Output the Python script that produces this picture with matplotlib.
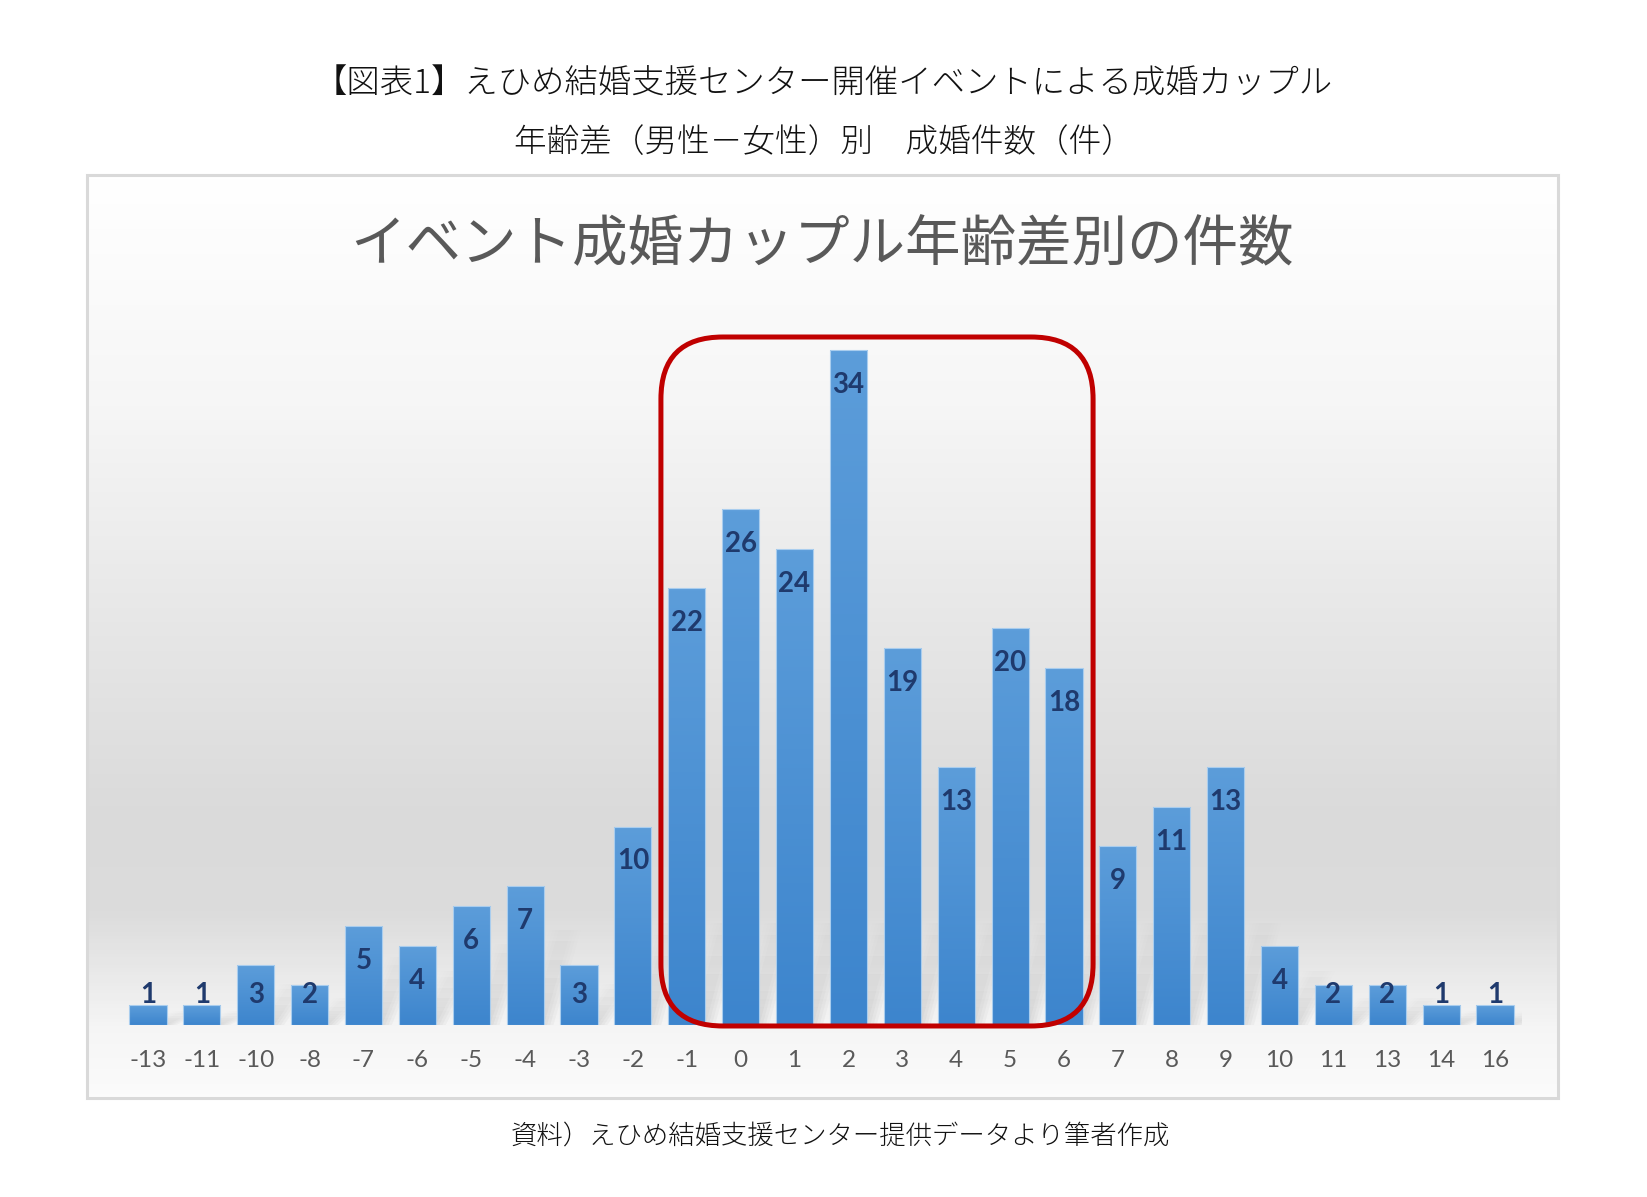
import numpy as np
import matplotlib.pyplot as plt
from matplotlib.patches import Rectangle, FancyBboxPatch, Polygon
from matplotlib.colors import LinearSegmentedColormap

# data
age_diff = ["-13", "-11", "-10", "-8", "-7", "-6", "-5", "-4", "-3", "-2", "-1",
            "0", "1", "2", "3", "4", "5", "6", "7", "8", "9", "10", "11", "13", "14", "16"]
counts = [1, 1, 3, 2, 5, 4, 6, 7, 3, 10, 22, 26, 24, 34, 19, 13, 20, 18, 9, 11, 13, 4, 2, 2, 1, 1]

fig_title1 = "【図表1】えひめ結婚支援センター開催イベントによる成婚カップル"
fig_title2 = "年齢差（男性－女性）別　成婚件数（件）"
chart_title = "イベント成婚カップル年齢差別の件数"
source_note = "資料）えひめ結婚支援センター提供データより筆者作成"

# highlighted group: "-1" .. "6"
box_from, box_to = "-1", "6"

W, H = 1647, 1197
plt.rcParams['font.family'] = ['Noto Sans CJK JP', 'DejaVu Sans']

fig = plt.figure(figsize=(W / 100, H / 100), dpi=100)
fig.patch.set_facecolor("white")

# chart frame with soft grey vertical gradient
fx0, fy0, fx1, fy1 = 87, 175, 1558, 1098
bg = fig.add_axes([fx0 / W, 1 - fy1 / H, (fx1 - fx0) / W, (fy1 - fy0) / H], zorder=0)
bg_cmap = LinearSegmentedColormap.from_list("bg", [
    (0.0, "#ffffff"), (0.25, "#f6f6f6"), (0.5, "#e6e6e6"), (0.7, "#dadada"),
    (0.8, "#dcdcdc"), (0.88, "#ececec"), (0.93, "#f6f6f6"), (1.0, "#fbfbfb")])
bg.imshow(np.linspace(0, 1, 256).reshape(-1, 1), cmap=bg_cmap, aspect="auto",
          extent=[0, 1, 0, 1], origin="upper")
bg.set_xlim(0, 1)
bg.set_ylim(0, 1)
bg.axis("off")
bg.add_patch(Rectangle((0, 0), 1, 1, transform=bg.transAxes, fill=False,
                       edgecolor="#d9d9d9", linewidth=2.2, clip_on=False))

# plot area
x = np.arange(len(counts))
px_left, px_right = 121, 1522
base_px, unit_px, ymax = 1025, 19.85, 36
ax = fig.add_axes([px_left / W, 1 - base_px / H, (px_right - px_left) / W,
                   ymax * unit_px / H], zorder=2)
ax.patch.set_alpha(0)

bars = ax.bar(x, counts, width=0.69, color="none", edgecolor="#a9cdee",
              linewidth=0.8, zorder=3)

bar_cmap = LinearSegmentedColormap.from_list("bar", ["#5c9dda", "#3d85cd"])
grad = np.linspace(0, 1, 128).reshape(-1, 1)

# soft shadow: grey fading upward
shade = np.zeros((64, 1, 4))
shade[..., :3] = 0.35
shade[:, 0, 3] = np.linspace(0.0, 0.16, 64) ** 1.3 / 0.16 ** 0.3

for rect in bars:
    x0, w, h = rect.get_x(), rect.get_width(), rect.get_height()
    im = ax.imshow(grad, cmap=bar_cmap, aspect="auto", origin="upper",
                   extent=[x0, x0 + w, 0, h], zorder=2.5)
    im.set_clip_path(rect)

    sh = min(h * 0.8, 6.0)
    for k in range(4):
        off = 0.06 * k
        poly = Polygon([(x0 + w * 0.4 + off, 0), (x0 + w + off, 0),
                        (x0 + w + 0.6 + off, sh), (x0 + w * 0.4 + 0.6 + off, sh)],
                       closed=True, facecolor="none", edgecolor="none")
        ax.add_patch(poly)
        sim = ax.imshow(shade, aspect="auto", origin="upper",
                        extent=[x0, x0 + w + 0.9, 0, sh], zorder=1.5, alpha=0.3)
        sim.set_clip_path(poly)

ax.set_xlim(-0.5, len(counts) - 0.5)
ax.set_ylim(0, ymax)

for xi, v in zip(x, counts):
    ax.text(xi, max(v - 1.76, 1.5), str(v), ha="center", va="center",
            fontsize=20, fontweight="bold", color="#1f3a6d", family="Lato", zorder=4)

ax.set_xticks(x)
ax.set_xticklabels(age_diff, fontsize=17.5, color="#595959", family="Lato")
ax.tick_params(axis="x", length=0, pad=18)
ax.set_yticks([])
for s in ax.spines.values():
    s.set_visible(False)

# red rounded box around the central group (drawn in pixel space)
i0, i1 = age_diff.index(box_from), age_diff.index(box_to)
(dx0, dy0) = ax.transData.transform((i0 - 0.48, -0.05))
(dx1, dy1) = ax.transData.transform((i1 + 0.54, 34.66))
box = FancyBboxPatch((dx0, dy0), dx1 - dx0, dy1 - dy0,
                     boxstyle="round,pad=0,rounding_size=62", transform=None,
                     fill=False, edgecolor="#c00000", linewidth=3.6, zorder=5)
fig.patches.append(box)
box.set_figure(fig)

# texts
fig.text(822 / W, 1 - 245 / H, chart_title, ha="center", va="center",
         fontsize=40, color="#595959")
fig.text(0.5, 1 - 84 / H, fig_title1, ha="center", va="center", fontsize=24,
         color="#111111", fontweight="light")
fig.text(0.5, 1 - 143 / H, fig_title2, ha="center", va="center", fontsize=23.5,
         color="#111111", fontweight="light")
fig.text(0.51, 1 - 1136 / H, source_note, ha="center", va="center", fontsize=19,
         color="#111111", fontweight="light")

fig.savefig("out.png", dpi=100)
